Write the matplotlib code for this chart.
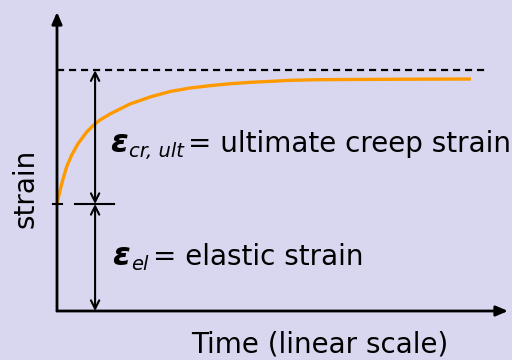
import matplotlib
matplotlib.use("Agg")
import matplotlib.pyplot as plt

# ---- data ----
time = [0, 0.56, 1.38, 2.34, 3.55, 5.14, 7.17, 8.94, 10.39, 12.80, 15.22, 17.63, 20.05,
        22.46, 27.29, 32.13, 36.96, 41.79, 46.62, 51.45, 56.28, 63.53, 82.85, 100.0]
strain = [1.0, 1.100, 1.224, 1.349, 1.458, 1.567, 1.673, 1.741, 1.785, 1.841, 1.888, 1.935,
          1.967, 2.000, 2.051, 2.084, 2.106, 2.124, 2.137, 2.146, 2.156, 2.162, 2.166, 2.168]
elastic_strain = 1.0
ultimate_strain = 2.25
arrow_time = 9.2

plt.rcParams['font.family'] = ['DejaVu Sans']

W, H = 512, 360
fig = plt.figure(figsize=(W / 100, H / 100), dpi=100)
fig.patch.set_facecolor('#D9D7EF')
ax = fig.add_axes([57 / W, 49 / H, 451 / W, 299 / H])
ax.set_xlim(0, 451 / 4.14)
ax.set_ylim(0, 299 / 107)
ax.axis('off')
ax.patch.set_alpha(0)

# axes with arrow heads
astyle = dict(arrowstyle='-|>,head_length=0.7,head_width=0.3', color='black', lw=2,
              shrinkA=0, shrinkB=0)
ax.annotate('', xy=(0, 299 / 107), xytext=(0, 0), arrowprops=astyle, annotation_clip=False)
ax.annotate('', xy=(451 / 4.14, 0), xytext=(0, 0), arrowprops=astyle, annotation_clip=False)

# dashed ultimate line
ax.plot([0, 103.6], [ultimate_strain, ultimate_strain], ls=(0, (3.2, 2.2)), color='black', lw=1.6,
        clip_on=False)

# creep curve
ax.plot(time, strain, color='#FF9900', lw=2.4, solid_capstyle='butt', solid_joinstyle='round',
        clip_on=False)

# elastic tick marks
ax.plot([-1.0, 1.2], [elastic_strain, elastic_strain], color='black', lw=1.5, clip_on=False)
ax.plot([4.3, 13.8], [elastic_strain, elastic_strain], color='black', lw=1.5, clip_on=False)

# double arrows
dstyle = dict(arrowstyle='<->,head_length=0.6,head_width=0.3', color='black', lw=1.5,
              shrinkA=0, shrinkB=0)
ax.annotate('', xy=(arrow_time, ultimate_strain), xytext=(arrow_time, elastic_strain),
            arrowprops=dstyle, annotation_clip=False)
ax.annotate('', xy=(arrow_time, elastic_strain), xytext=(arrow_time, 0),
            arrowprops=dstyle, annotation_clip=False)

FS = 20
SUB = 14


def label(x, y, sub, rest):
    e = ax.text(x, y, 'ε', fontsize=FS + 3, fontweight='bold', fontstyle='italic',
                va='baseline', ha='left')
    s = ax.annotate(sub, xy=(1, y), xycoords=(e, 'data'), xytext=(1, -3.6),
                    textcoords='offset points', fontsize=SUB, fontstyle='italic',
                    va='baseline', ha='left')
    ax.annotate(rest, xy=(1, y), xycoords=(s, 'data'), xytext=(3, 0),
                textcoords='offset points', fontsize=FS, va='baseline', ha='left')


label(12.8, 1.486, 'cr, ult', '= ultimate creep strain')
label(13.3, 0.43, 'el', '= elastic strain')

ax.text(-7.7, 1.15, 'strain', fontsize=FS, rotation=90, ha='center', va='center')
ax.text(63.5, -0.39, 'Time (linear scale)', fontsize=FS, ha='center', va='baseline')

fig.savefig('out.png', dpi=100, facecolor=fig.get_facecolor())
